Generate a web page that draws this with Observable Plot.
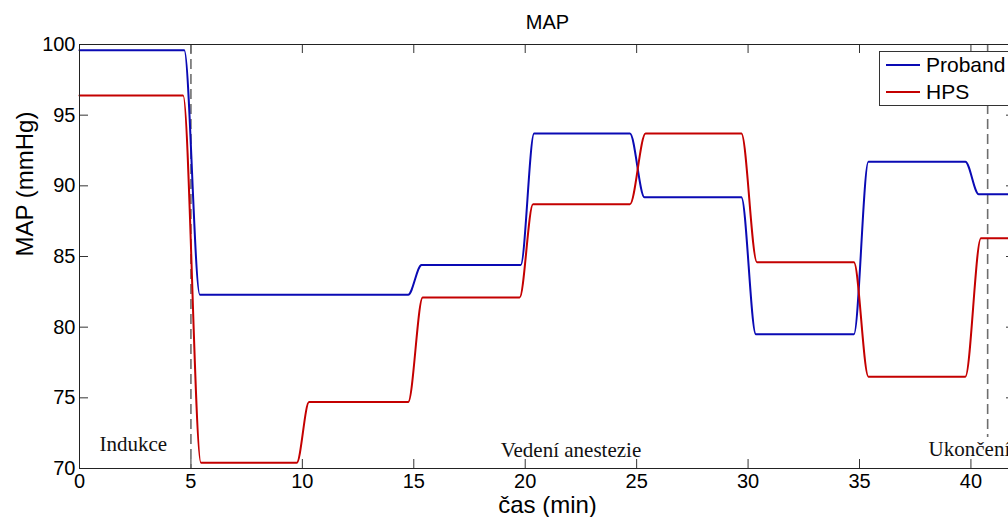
<!DOCTYPE html>
<html>
<head>
<meta charset="utf-8">
<script src="https://cdn.jsdelivr.net/npm/d3@7"></script>
<script src="https://cdn.jsdelivr.net/npm/@observablehq/plot@0.6"></script>
<style>
  html, body { margin: 0; padding: 0; background: #fff; overflow: hidden; }
  #wrap { position: relative; width: 1008px; height: 517px; overflow: hidden; }
  #wrap svg { max-width: none !important; }
  .legend {
    position: absolute; left: 879px; top: 51px; width: 150px; height: 55px;
    background: #fff; border: 1px solid #333; box-sizing: border-box;
    font-family: "Liberation Sans", Arial, sans-serif; font-size: 21px; color: #000;
  }
  .legend .row { position: absolute; left: 6px; height: 24px; display: flex; align-items: center; }
  .legend .row span.sw { display: inline-block; width: 34px; height: 2px; margin-right: 6px; }
</style>
</head>
<body>
<div id="wrap"></div>
<script>
// Mean arterial pressure over time, two series, piecewise-constant with short transitions
const seriesNames = ["Proband", "HPS"];
const seriesColors = ["#0a0ab4", "#c40000"];

const probandTime = [0, 4.7, 5.4, 14.75, 15.35, 19.8, 20.4, 24.7, 25.35, 29.7, 30.35, 34.75, 35.4, 39.75, 40.35, 42];
const probandMap  = [99.6, 99.6, 82.3, 82.3, 84.4, 84.4, 93.7, 93.7, 89.2, 89.2, 79.5, 79.5, 91.7, 91.7, 89.4, 89.4];

const hpsTime = [0, 4.65, 5.45, 9.75, 10.3, 14.75, 15.4, 19.75, 20.35, 24.7, 25.4, 29.7, 30.4, 34.75, 35.4, 39.75, 40.45, 42];
const hpsMap  = [96.4, 96.4, 70.4, 70.4, 74.7, 74.7, 82.1, 82.1, 88.7, 88.7, 93.7, 93.7, 84.6, 84.6, 76.5, 76.5, 86.3, 86.3];

// phase boundaries (dashed) and phase names
const phaseBounds = [5, 40.75];
const phaseNames = ["Indukce", "Vedení anestezie", "Ukončení"];

const xTicks = [0, 5, 10, 15, 20, 25, 30, 35, 40];
const yTicks = [70, 75, 80, 85, 90, 95, 100];

const rows = [
  ...probandTime.map((t, i) => ({series: seriesNames[0], t, v: probandMap[i]})),
  ...hpsTime.map((t, i) => ({series: seriesNames[1], t, v: hpsMap[i]}))
];

const W = 1016, H = 517, mL = 79, mR = 1, mT = 44, mB = 49;
const frameW = W - mL - mR, frameH = H - mT - mB;
const sans = "'Liberation Sans', Arial, sans-serif";
const serif = "'Liberation Serif', 'Times New Roman', serif";

const notes = [
  {text: phaseNames[0], x: 0.9, y: 71.27},
  {text: phaseNames[1], x: 18.9, y: 70.78},
  {text: phaseNames[2], x: 38.1, y: 70.85}
];

const chart = Plot.plot({
  width: W, height: H,
  marginLeft: mL, marginRight: mR, marginTop: mT, marginBottom: mB,
  style: {fontFamily: sans, background: "#fff", overflow: "hidden"},
  x: {domain: [0, 42]},
  y: {domain: [70, 100]},
  color: {domain: seriesNames, range: seriesColors},
  marks: [
    // axis tick labels
    Plot.axisX({ticks: xTicks, tickSize: 0, tickPadding: 5, fontSize: 20, label: null, tickFormat: d => String(d), fill: "#000"}),
    Plot.axisY({ticks: yTicks, tickSize: 0, tickPadding: 4, fontSize: 20, label: null, tickFormat: d => String(d), fill: "#000"}),
    // inward ticks on all sides
    Plot.ruleX(xTicks, {x: d => d, insetTop: frameH - 9, stroke: "#333"}),
    Plot.ruleX(xTicks, {x: d => d, insetBottom: frameH - 9, stroke: "#333"}),
    Plot.ruleY(yTicks, {y: d => d, insetRight: frameW - 9, stroke: "#333"}),
    Plot.ruleY(yTicks, {y: d => d, insetLeft: frameW - 9, stroke: "#333"}),
    // phase boundaries
    Plot.ruleX([phaseBounds[0]], {x: d => d, stroke: "#6e6e6e", strokeWidth: 1.6, strokeDasharray: "10,5"}),
    Plot.ruleX([phaseBounds[1]], {x: d => d, insetBottom: 31, stroke: "#6e6e6e", strokeWidth: 1.6, strokeDasharray: "10,5"}),
    // series
    Plot.line(rows, {x: "t", y: "v", z: "series", stroke: "series", strokeWidth: 2, curve: "monotone-x"}),
    // phase labels
    Plot.text(notes, {x: "x", y: "y", text: "text", textAnchor: "start", lineAnchor: "bottom", fontFamily: serif, fontSize: 21, fill: "#111"}),
    Plot.frame({stroke: "#222"}),
    // title and axis labels
    Plot.text(["MAP"], {frameAnchor: "top", lineAnchor: "bottom", dy: -16, fontSize: 20, fill: "#000"}),
    Plot.text(["čas (min)"], {frameAnchor: "bottom", lineAnchor: "bottom", dy: 44, fontSize: 24, fill: "#000"}),
    Plot.text(["MAP (mmHg)"], {frameAnchor: "left", lineAnchor: "bottom", rotate: -90, dx: -47, fontSize: 24, fill: "#000"})
  ]
});

const wrap = document.getElementById("wrap");
wrap.appendChild(chart);

// legend box
const legend = document.createElement("div");
legend.className = "legend";
seriesNames.forEach((name, i) => {
  const row = document.createElement("div");
  row.className = "row";
  row.style.top = (i === 0 ? 1 : 28) + "px";
  const sw = document.createElement("span");
  sw.className = "sw";
  sw.style.background = seriesColors[i];
  row.appendChild(sw);
  row.appendChild(document.createTextNode(name));
  legend.appendChild(row);
});
wrap.appendChild(legend);
</script>
</body>
</html>
